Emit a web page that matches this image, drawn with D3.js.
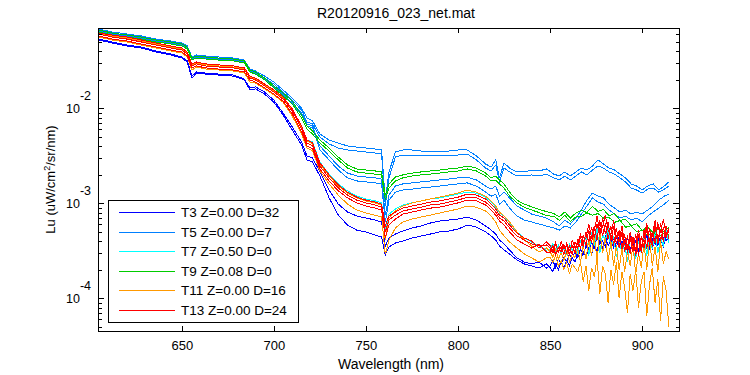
<!DOCTYPE html>
<html>
<head>
<meta charset="utf-8">
<script src="https://cdn.jsdelivr.net/npm/d3@7"></script>
<style>
  body { margin: 0; background: #fff; }
  svg { font-family: "Liberation Sans", Arial, Helvetica, sans-serif; }
</style>
</head>
<body>
<div class="chart"></div>
<script>
// wavelength grid (nm) for the smoother casts
var wl = [605, 612, 620, 628, 636, 644, 650, 653, 655.5, 658,
    663, 670, 678, 684, 687, 690, 695, 700, 705, 710,
    715, 718, 721, 725, 730, 735, 740, 745, 750, 755,
    758.5, 760.5, 762.5, 766, 770, 775, 780, 785, 790, 795,
    800, 805, 810, 815, 818, 820.5, 822.5, 825, 828, 832,
    836, 840, 844, 848, 852, 855, 858, 861, 864, 867,
    870, 873, 876, 879, 882, 885, 888, 891, 894, 897,
    900, 903, 906, 909, 912, 914.5];

// finer grid past 850 nm for the noisy casts
var wlFine = [605, 612, 620, 628, 636, 644, 650, 653, 655.5, 658,
    663, 670, 678, 684, 687, 690, 695, 700, 705, 710,
    715, 718, 721, 725, 730, 735, 740, 745, 750, 755,
    758.5, 760.5, 762.5, 766, 770, 775, 780, 785, 790, 795,
    800, 805, 810, 815, 818, 820.5, 822.5, 825, 828, 832,
    836, 840, 844, 848,
    850, 851.5, 853, 854.5, 856, 857.5, 859, 860.5, 862, 863.5,
    865, 866.5, 868, 869.5, 871, 872.5, 874, 875.5, 877, 878.5,
    880, 881.5, 883, 884.5, 886, 887.5, 889, 890.5, 892, 893.5,
    895, 896.5, 898, 899.5, 901, 902.5, 904, 905.5, 907, 908.5,
    910, 911.5, 913, 914.5];

// Lu, in 1e-3 uW/cm^2/sr/nm, one array per scan
var t3Scans = [
    [52.4, 48.7, 45.3, 43.1, 39.1, 36.4, 33.8, 30.7, 20.8, 23.5,
    22.9, 22.4, 21.8, 19.9, 15.6, 16.0, 14.1, 11.6, 8.5, 5.9,
    4.11, 2.86, 2.72, 1.94, 1.14, 0.75, 0.59, 0.523, 0.50, 0.464,
    0.442, 0.286, 0.347, 0.382, 0.401, 0.431, 0.453, 0.475, 0.50, 0.511,
    0.536, 0.59, 0.563, 0.50, 0.453, 0.411, 0.355, 0.322, 0.293, 0.253,
    0.23, 0.219, 0.208, 0.23,
    0.21, 0.19, 0.23, 0.20, 0.24, 0.21, 0.25, 0.22, 0.27, 0.24,
    0.29, 0.25, 0.31, 0.27, 0.34, 0.29, 0.37, 0.31, 0.42, 0.34,
    0.45, 0.36, 0.41, 0.34, 0.44, 0.35, 0.40, 0.32, 0.43, 0.33,
    0.38, 0.31, 0.41, 0.33, 0.44, 0.35, 0.40, 0.33, 0.45, 0.36,
    0.42, 0.35, 0.46, 0.39],
    [53.6, 49.9, 46.4, 44.2, 40.1, 37.3, 34.7, 31.5, 21.8, 24.1,
    23.5, 22.9, 22.4, 20.3, 16.4, 16.8, 14.8, 12.2, 8.9, 6.36,
    4.42, 3.15, 3.0, 2.14, 1.38, 0.98, 0.81, 0.735, 0.70, 0.667,
    0.636, 0.355, 0.431, 0.475, 0.511, 0.55, 0.577, 0.62, 0.651, 0.667,
    0.683, 0.717, 0.667, 0.577, 0.523, 0.475, 0.411, 0.373, 0.322, 0.266,
    0.241, 0.23, 0.241, 0.208,
    0.22, 0.25, 0.21, 0.26, 0.23, 0.27, 0.24, 0.29, 0.26, 0.31,
    0.27, 0.33, 0.29, 0.36, 0.31, 0.39, 0.34, 0.44, 0.37, 0.40,
    0.35, 0.46, 0.38, 0.42, 0.34, 0.45, 0.36, 0.41, 0.33, 0.44,
    0.35, 0.40, 0.32, 0.43, 0.36, 0.46, 0.34, 0.42, 0.37, 0.47,
    0.38, 0.44, 0.40, 0.45]
];

var t5Scans = [
    [68.3, 63.6, 60.6, 57.7, 53.6, 51.1, 48.7, 45.3, 34.7, 36.4,
    35.5, 34.7, 33.8, 32.2, 25.9, 24.7, 21.8, 18.9, 15.6, 12.8,
    10.1, 7.9, 7.35, 5.36, 4.64, 4.31, 4.01, 3.91, 3.82, 3.73,
    3.64, 1.08, 2.14, 3.47, 3.64, 3.64, 3.55, 3.55, 3.47, 3.55,
    3.64, 3.64, 3.15, 2.59, 2.41, 2.86, 1.85, 2.66, 2.35, 2.14,
    2.14, 2.24, 2.19, 2.30, 2.03, 1.94, 2.14, 1.94, 2.14, 2.35,
    2.24, 2.47, 2.86, 2.59, 2.35, 2.24, 2.03, 1.85, 1.60, 1.52,
    1.38, 1.52, 1.60, 1.38, 1.52, 1.68],
    [66.7, 62.0, 59.1, 56.3, 52.4, 49.9, 47.5, 44.2, 33.8, 35.5,
    34.7, 33.8, 33.0, 31.5, 25.3, 24.1, 20.8, 18.0, 14.8, 12.2,
    9.6, 7.17, 6.83, 4.99, 4.21, 3.82, 3.64, 3.55, 3.47, 3.38,
    3.30, 0.937, 1.85, 3.07, 3.22, 3.22, 3.15, 3.15, 3.15, 3.15,
    3.22, 3.30, 2.86, 2.35, 2.19, 2.53, 1.68, 2.35, 2.14, 1.94,
    1.94, 1.99, 1.94, 2.03, 1.85, 1.76, 1.94, 1.76, 1.94, 2.14,
    1.99, 2.24, 2.47, 2.35, 2.14, 2.03, 1.85, 1.68, 1.45, 1.38,
    1.28, 1.41, 1.45, 1.31, 1.41, 1.52],
    [65.1, 60.6, 57.7, 55.0, 51.1, 48.7, 46.4, 43.1, 33.0, 34.7,
    33.8, 33.0, 32.2, 30.7, 24.7, 23.5, 20.3, 17.2, 14.1, 11.4,
    8.9, 6.83, 6.51, 4.01, 3.15, 2.47, 2.08, 1.94, 1.89, 1.85,
    1.80, 0.75, 1.22, 1.52, 1.60, 1.64, 1.68, 1.72, 1.76, 1.80,
    1.85, 1.89, 1.76, 1.52, 1.41, 1.52, 1.19, 1.31, 1.14, 0.937,
    0.85, 0.77, 0.735, 0.70, 0.636, 0.577, 0.667, 0.605, 0.70, 0.85,
    1.08, 1.28, 1.19, 1.14, 0.98, 0.89, 0.81, 0.85, 0.77, 0.81,
    0.77, 0.85, 0.937, 1.08, 1.19, 1.25],
    [65.1, 60.6, 57.7, 53.6, 49.9, 47.5, 45.3, 42.1, 32.2, 33.8,
    33.0, 32.2, 31.5, 30.0, 24.1, 22.9, 19.9, 16.8, 13.8, 11.1,
    8.5, 6.51, 6.2, 3.64, 2.86, 2.24, 1.85, 1.72, 1.68, 1.64,
    1.60, 0.636, 1.08, 1.31, 1.38, 1.41, 1.45, 1.48, 1.52, 1.56,
    1.60, 1.64, 1.52, 1.31, 1.19, 1.25, 0.98, 1.08, 0.89, 0.735,
    0.667, 0.636, 0.605, 0.577, 0.55, 0.523, 0.577, 0.55, 0.636, 0.77,
    0.937, 1.14, 1.03, 0.98, 0.85, 0.77, 0.70, 0.735, 0.667, 0.70,
    0.636, 0.735, 0.81, 0.89, 0.98, 1.08]
];

var t7Scans = [
    [63.6, 59.1, 56.3, 52.4, 48.7, 45.3, 43.1, 39.1, 29.3, 30.7,
    29.3, 28.6, 27.9, 26.6, 21.8, 20.8, 18.0, 15.6, 13.2, 9.83,
    6.51, 4.64, 4.42, 2.72, 2.03, 1.60, 1.35, 1.19, 1.11, 1.06,
    1.01, 0.523, 0.77, 0.87, 0.96, 1.01, 1.06, 1.11, 1.14, 1.19,
    1.25, 1.31, 1.28, 1.16, 1.03, 0.91, 0.79, 0.735, 0.62, 0.50,
    0.431, 0.391, 0.355, 0.322,
    0.33, 0.38, 0.31, 0.36, 0.30, 0.34, 0.29, 0.37, 0.32, 0.35,
    0.30, 0.40, 0.34, 0.46, 0.28, 0.50, 0.36, 0.55, 0.30, 0.48,
    0.40, 0.56, 0.33, 0.45, 0.27, 0.40, 0.30, 0.38, 0.24, 0.42,
    0.33, 0.26, 0.40, 0.30, 0.46, 0.28, 0.44, 0.33, 0.50, 0.30,
    0.43, 0.36, 0.52, 0.38]
];

var t9Scans = [
    [66.7, 62.0, 59.1, 56.3, 52.4, 49.9, 47.5, 44.2, 33.8, 35.5,
    34.7, 33.8, 33.0, 31.5, 25.3, 24.1, 20.8, 17.2, 14.5, 11.9,
    8.5, 6.51, 5.77, 4.64, 3.82, 3.07, 2.53, 2.30, 2.24, 2.19,
    2.14, 1.22, 1.60, 1.89, 1.99, 2.08, 2.14, 2.19, 2.24, 2.30,
    2.35, 2.47, 2.35, 2.08, 1.85, 1.94, 1.76, 1.60, 1.31, 1.08,
    0.98, 0.92, 0.86, 0.82, 0.78, 0.72, 0.81, 0.70, 0.79, 0.84,
    0.80, 0.93, 0.82, 0.86, 0.74, 0.78, 0.66, 0.68, 0.58, 0.61,
    0.52, 0.56, 0.49, 0.54, 0.50, 0.56],
    [63.6, 59.1, 56.3, 53.6, 49.9, 47.5, 45.3, 42.1, 32.2, 33.8,
    33.0, 32.2, 31.5, 30.0, 24.1, 22.9, 19.9, 16.4, 13.5, 11.1,
    7.9, 6.05, 5.36, 4.31, 3.55, 2.86, 2.35, 2.14, 2.08, 2.03,
    1.99, 1.08, 1.45, 1.72, 1.85, 1.94, 1.99, 2.03, 2.08, 2.14,
    2.19, 2.30, 2.19, 1.94, 1.72, 1.76, 1.60, 1.45, 1.19, 1.01,
    0.91, 0.85, 0.80, 0.74, 0.73, 0.66, 0.75, 0.64, 0.72, 0.73,
    0.79, 0.75, 0.78, 0.70, 0.71, 0.63, 0.66, 0.56, 0.58, 0.50,
    0.52, 0.46, 0.49, 0.45, 0.49, 0.47]
];

var t11Scans = [
    [62.0, 57.7, 55.0, 51.1, 47.5, 44.2, 42.1, 38.2, 28.6, 30.0,
    28.6, 27.9, 27.2, 25.9, 21.3, 20.3, 17.6, 15.2, 12.8, 9.6,
    6.2, 4.53, 4.21, 2.59, 1.94, 1.52, 1.28, 1.14, 1.06, 1.01,
    0.96, 0.411, 0.70, 0.83, 0.937, 1.01, 1.06, 1.11, 1.16, 1.22,
    1.28, 1.38, 1.31, 1.19, 1.06, 0.937, 0.81, 0.735, 0.636, 0.50,
    0.411, 0.355, 0.307, 0.338,
    0.31, 0.27, 0.33, 0.26, 0.30, 0.25, 0.32, 0.24, 0.29, 0.27,
    0.33, 0.24, 0.36, 0.26, 0.42, 0.28, 0.46, 0.25, 0.50, 0.30,
    0.44, 0.24, 0.40, 0.22, 0.36, 0.20, 0.34, 0.19, 0.31, 0.22,
    0.36, 0.18, 0.30, 0.21, 0.38, 0.20, 0.42, 0.22, 0.35, 0.19,
    0.40, 0.23, 0.31, 0.26],
    [56.3, 52.4, 49.9, 46.4, 43.1, 40.1, 38.2, 34.7, 25.3, 27.2,
    25.9, 25.3, 24.7, 23.5, 18.9, 18.5, 16.0, 13.8, 11.6, 8.30,
    5.36, 3.82, 3.55, 2.19, 1.60, 1.22, 0.98, 0.85, 0.79, 0.75,
    0.717, 0.29, 0.411, 0.55, 0.636, 0.683, 0.717, 0.75, 0.79, 0.83,
    0.87, 0.937, 0.91, 0.83, 0.735, 0.636, 0.523, 0.453, 0.391, 0.338,
    0.293, 0.266, 0.241, 0.266,
    0.27, 0.24, 0.28, 0.22, 0.25, 0.20, 0.24, 0.18, 0.23, 0.21,
    0.19, 0.24, 0.15, 0.22, 0.12, 0.21, 0.17, 0.26, 0.11, 0.22,
    0.18, 0.09, 0.20, 0.14, 0.24, 0.10, 0.19, 0.13, 0.07, 0.18,
    0.12, 0.20, 0.08, 0.15, 0.19, 0.065, 0.14, 0.21, 0.09, 0.16,
    0.058, 0.17, 0.12, 0.05]
];

var t13Scans = [
    [60.6, 56.3, 53.6, 49.9, 46.4, 43.1, 41.1, 37.3, 27.9, 29.3,
    27.9, 27.2, 26.6, 25.3, 20.8, 19.9, 17.2, 14.8, 12.5, 9.37,
    6.05, 4.31, 4.01, 2.47, 1.85, 1.45, 1.22, 1.08, 1.01, 0.96,
    0.91, 0.50, 0.667, 0.75, 0.83, 0.87, 0.91, 0.96, 0.98, 1.03,
    1.08, 1.16, 1.14, 1.03, 0.91, 0.81, 0.70, 0.651, 0.55, 0.453,
    0.411, 0.373, 0.355, 0.364,
    0.34, 0.30, 0.37, 0.31, 0.35, 0.29, 0.38, 0.32, 0.36, 0.30,
    0.42, 0.33, 0.46, 0.36, 0.52, 0.38, 0.58, 0.41, 0.66, 0.45,
    0.62, 0.42, 0.58, 0.36, 0.55, 0.34, 0.50, 0.31, 0.46, 0.29,
    0.44, 0.28, 0.47, 0.30, 0.52, 0.33, 0.55, 0.35, 0.60, 0.37,
    0.62, 0.39, 0.58, 0.42],
    [57.7, 53.6, 51.1, 47.5, 44.2, 41.1, 39.1, 35.5, 26.6, 27.9,
    26.6, 25.9, 25.3, 24.1, 19.9, 18.9, 16.4, 14.1, 11.9, 8.71,
    5.63, 4.01, 3.73, 2.30, 1.72, 1.35, 1.14, 1.01, 0.937, 0.89,
    0.85, 0.431, 0.59, 0.683, 0.77, 0.81, 0.85, 0.89, 0.91, 0.96,
    1.01, 1.08, 1.06, 0.96, 0.85, 0.75, 0.651, 0.59, 0.50, 0.411,
    0.373, 0.338, 0.373, 0.307,
    0.30, 0.36, 0.29, 0.34, 0.31, 0.37, 0.30, 0.35, 0.29, 0.39,
    0.34, 0.44, 0.35, 0.50, 0.39, 0.56, 0.43, 0.61, 0.46, 0.70,
    0.48, 0.64, 0.40, 0.57, 0.37, 0.52, 0.33, 0.47, 0.30, 0.44,
    0.31, 0.48, 0.28, 0.45, 0.34, 0.56, 0.36, 0.50, 0.38, 0.63,
    0.40, 0.56, 0.44, 0.52],
    [62.0, 59.1, 56.3, 52.4, 48.7, 45.3, 43.1, 39.1, 29.3, 30.7,
    29.3, 28.6, 27.9, 26.6, 21.8, 20.8, 18.0, 15.6, 13.2, 9.83,
    6.51, 4.64, 4.31, 2.66, 1.99, 1.56, 1.31, 1.16, 1.08, 1.03,
    0.98, 0.577, 0.735, 0.81, 0.89, 0.937, 0.98, 1.03, 1.06, 1.11,
    1.16, 1.25, 1.22, 1.11, 0.98, 0.87, 0.75, 0.70, 0.59, 0.487,
    0.431, 0.401, 0.338, 0.391,
    0.36, 0.32, 0.39, 0.30, 0.40, 0.33, 0.36, 0.28, 0.41, 0.34,
    0.38, 0.47, 0.40, 0.43, 0.60, 0.44, 0.52, 0.73, 0.50, 0.57,
    0.75, 0.52, 0.47, 0.66, 0.44, 0.40, 0.58, 0.37, 0.34, 0.50,
    0.36, 0.33, 0.52, 0.35, 0.42, 0.62, 0.40, 0.45, 0.66, 0.42,
    0.50, 0.68, 0.47, 0.55]
];

var castLabels = ["T3 Z=0.00 D=32", "T5 Z=0.00 D=7", "T7 Z=0.50 D=0",
    "T9 Z=0.08 D=0", "T11 Z=0.00 D=16", "T13 Z=0.00 D=24"];
var castScans = [t3Scans, t5Scans, t7Scans, t9Scans, t11Scans, t13Scans];
var castGrids = [wlFine, wl, wlFine, wl, wlFine, wlFine];

var xTicks = [650, 700, 750, 800, 850, 900];
var yMajorTicks = [1e-4, 1e-3, 1e-2];
var yMinorTicks = [5e-5, 6e-5, 7e-5, 8e-5, 9e-5,
    2e-4, 3e-4, 4e-4, 5e-4, 6e-4, 7e-4, 8e-4, 9e-4,
    2e-3, 3e-3, 4e-3, 5e-3, 6e-3, 7e-3, 8e-3, 9e-3,
    2e-2, 3e-2, 4e-2, 5e-2, 6e-2];
var yTickExps = ["-4", "-3", "-2"];

// styling
var colors = ["#0000ff", "#0080ff", "#00ffff", "#00cc00", "#ff9900", "#ff0000"];

var svgWidth = 750;
var svgHeight = 375;
var margin = { top: 28, right: 71, bottom: 44, left: 98 };
var width = svgWidth - margin.left - margin.right;
var height = svgHeight - margin.top - margin.bottom;

var svg = d3.select(".chart")
    .append("svg")
    .attr("width", svgWidth)
    .attr("height", svgHeight);

var chartGroup = svg.append("g")
    .attr("transform", `translate(${margin.left}, ${margin.top})`);

var xScale = d3.scaleLinear()
    .domain([604.5, 920])
    .range([0, width]);

var yScale = d3.scaleLog()
    .domain([4.53e-5, 0.0700])
    .range([height, 0]);

// one line generator per wavelength grid
function makeLine(grid) {
    return d3.line()
        .x((d, i) => xScale(grid[i]))
        .y(d => yScale(d / 1000));
}

// scans, cast by cast so later casts sit on top
var plotArea = chartGroup.append("g");
castScans.forEach(function (scans, c) {
    var lineGen = makeLine(castGrids[c]);
    scans.forEach(function (scan) {
        plotArea.append("path")
            .datum(scan)
            .attr("d", lineGen)
            .attr("fill", "none")
            .attr("stroke", colors[c])
            .attr("stroke-width", 1)
            .attr("shape-rendering", "crispEdges");
    });
});

// axes, ticks pointing inward on all four sides
function noDomain(g) { g.select(".domain").remove(); }

chartGroup.append("g")
    .attr("transform", `translate(0,${height})`)
    .call(d3.axisBottom(xScale).tickValues(xTicks).tickSize(-5).tickPadding(10).tickFormat(d3.format("d")))
    .call(noDomain)
    .call(g => g.selectAll("text").attr("font-size", 13).attr("fill", "#000").attr("font-family", null));

chartGroup.append("g")
    .call(d3.axisTop(xScale).tickValues(xTicks).tickSize(-5).tickFormat(""))
    .call(noDomain);

chartGroup.append("g")
    .call(d3.axisLeft(yScale).tickValues(yMajorTicks).tickSize(-6).tickFormat(""))
    .call(noDomain);
chartGroup.append("g")
    .call(d3.axisLeft(yScale).tickValues(yMinorTicks).tickSize(-3.5).tickFormat(""))
    .call(noDomain);
chartGroup.append("g")
    .attr("transform", `translate(${width},0)`)
    .call(d3.axisRight(yScale).tickValues(yMajorTicks).tickSize(-6).tickFormat(""))
    .call(noDomain);
chartGroup.append("g")
    .attr("transform", `translate(${width},0)`)
    .call(d3.axisRight(yScale).tickValues(yMinorTicks).tickSize(-3.5).tickFormat(""))
    .call(noDomain);

chartGroup.selectAll(".tick line").attr("stroke", "#000").attr("shape-rendering", "crispEdges");

// y tick labels as 10 with a raised exponent
var yLabels = chartGroup.append("g")
    .attr("font-size", 12.5)
    .attr("text-anchor", "end");
yMajorTicks.forEach(function (v, i) {
    var t = yLabels.append("text")
        .attr("x", -7)
        .attr("y", yScale(v) + 4.5);
    t.append("tspan").text("10");
    t.append("tspan").attr("dy", -12.5).text(yTickExps[i]);
});

// frame
chartGroup.append("rect")
    .attr("width", width)
    .attr("height", height)
    .attr("fill", "none")
    .attr("stroke", "#000")
    .attr("shape-rendering", "crispEdges");

// titles
svg.append("text")
    .attr("x", 396)
    .attr("y", 18)
    .attr("text-anchor", "middle")
    .attr("font-size", 14)
    .text("R20120916_023_net.mat");

svg.append("text")
    .attr("x", 391)
    .attr("y", 368.5)
    .attr("text-anchor", "middle")
    .attr("font-size", 14)
    .text("Wavelength (nm)");

var yTitle = svg.append("text")
    .attr("transform", `translate(55,${margin.top + height / 2}) rotate(-90)`)
    .attr("text-anchor", "middle")
    .attr("font-size", 13);
yTitle.append("tspan").text("Lu (uW/cm");
yTitle.append("tspan").attr("dy", -5).attr("font-size", 9).text("2");
yTitle.append("tspan").attr("dy", 5).text("/sr/nm)");

// legend
var legend = svg.append("g");
legend.append("rect")
    .attr("x", 108.5)
    .attr("y", 200.5)
    .attr("width", 190)
    .attr("height", 122)
    .attr("fill", "#fff")
    .attr("stroke", "#000")
    .attr("shape-rendering", "crispEdges");

castLabels.forEach(function (label, i) {
    var ly = Math.round(212 + i * 19.5) + 0.5;
    legend.append("line")
        .attr("x1", 119)
        .attr("x2", 175)
        .attr("y1", ly)
        .attr("y2", ly)
        .attr("stroke", colors[i]);
    legend.append("text")
        .attr("x", 181)
        .attr("y", ly)
        .attr("dy", "0.36em")
        .attr("font-size", 13.5)
        .text(label);
});
</script>
</body>
</html>
